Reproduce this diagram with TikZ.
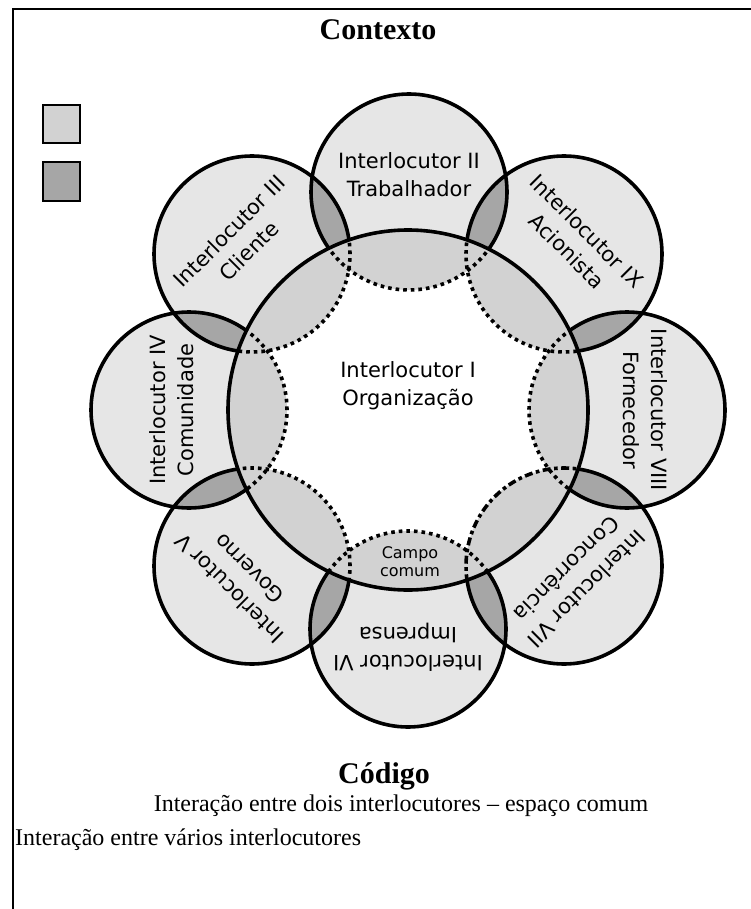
\documentclass[tikz,border=0pt]{standalone}
\usepackage{fontspec}
\setmainfont{Liberation Serif}
\newfontfamily\circfont{DejaVu Sans}
\definecolor{outerfill}{HTML}{E6E6E6}
\definecolor{midfill}{HTML}{D2D2D2}
\definecolor{darkfill}{HTML}{A6A6A6}
\begin{document}
\begin{tikzpicture}[x=1pt,y=-1pt,
  solidline/.style={line width=3.6pt},
  dotline/.style={line width=3.6pt, dash pattern=on 3.6pt off 4pt},
  dashdotline/.style={line width=3.6pt, dash pattern=on 8pt off 3.5pt on 3.6pt off 3.5pt},
  ctext/.style={font=\circfont\fontsize{21}{28}\selectfont, align=center, inner sep=0pt},
  legendbox/.style={draw, line width=2.5pt},
  frameline/.style={line width=2.5pt},
]
\useasboundingbox (0,0) rectangle (751,909);
% frame
\coordinate (fb) at (13,909);
\coordinate (fc) at (13,9);
\coordinate (fr) at (751,9);
\draw[frameline] (fb) -- (fc) -- (fr);
% centers
\coordinate (O) at (408,410);
\coordinate (c2) at (409,192);
\coordinate (c9) at (564,254);
\coordinate (c8) at (627,410);
\coordinate (c7) at (564,566);
\coordinate (c6) at (408,629);
\coordinate (c5) at (252,566);
\coordinate (c4) at (189,410);
\coordinate (c3) at (252,254);
\def\rr{98pt}
\def\RR{180pt}
% light fill of outer circles
\foreach \c in {c2,c9,c8,c7,c6,c5,c4,c3}
  \fill[outerfill] (\c) circle (\rr);
% dark lenses
\foreach \a/\b in {c2/c9,c9/c8,c8/c7,c7/c6,c6/c5,c5/c4,c4/c3,c3/c2}{
  \begin{scope}
    \clip (\a) circle (\rr);
    \fill[darkfill] (\b) circle (\rr);
  \end{scope}
}
% outer outlines
\foreach \c in {c2,c9,c8,c7,c6,c5,c4,c3}
  \draw[solidline] (\c) circle (\rr);
% big circle
\fill[white] (O) circle (\RR);
\begin{scope}
  \clip (O) circle (\RR);
  \foreach \c in {c2,c9,c8,c7,c6,c5,c4,c3}
    \fill[midfill] (\c) circle (\rr);
  \foreach \c in {c2,c9,c8,c6,c5,c4,c3}
    \draw[dotline] (\c) circle (\rr);
  \draw[dashdotline] (c7) circle (\rr);
\end{scope}
\draw[solidline] (O) circle (\RR);
% texts in circles
\node[ctext] (t1) at (408,386) {Interlocutor I\\Organização};
\node[ctext] (t2) at (409,175) {Interlocutor II\\Trabalhador};
\node[ctext, rotate=-45] (t9) at (577,241) {Interlocutor IX\\Acionista};
\node[ctext, rotate=-90] (t8) at (645,410) {Interlocutor VIII\\Fornecedor};
\node[ctext, rotate=-135] (t7) at (577,579) {Interlocutor VII\\Concorrência};
\node[ctext, rotate=180] (t6) at (408,647) {Interlocutor VI\\Imprensa};
\node[ctext, rotate=135] (t5) at (239,579) {Interlocutor V\\Governo};
\node[ctext, rotate=90] (t4) at (172,410) {Interlocutor IV\\Comunidade};
\node[ctext, rotate=45] (t3) at (239,241) {Interlocutor III\\Cliente};
\node[ctext, font=\circfont\fontsize{16}{18}\selectfont] (cc) at (410,562) {Campo\\comum};
% legend
\node[legendbox, fill=midfill, minimum width=37pt, minimum height=38pt, inner sep=0pt] (lg1) at (61.5,124) {};
\node[legendbox, fill=darkfill, minimum width=37pt, minimum height=39pt, inner sep=0pt] (lg2) at (61.5,181.5) {};
% headings
\node[font=\fontsize{30}{32}\selectfont\bfseries, inner sep=0pt] (ctx) at (378,30) {Contexto};
\node[font=\fontsize{30}{32}\selectfont\bfseries, inner sep=0pt] (cod) at (384,776) {Código};
\node[font=\fontsize{24}{26}\selectfont, inner sep=0pt] (l1) at (401,806) {Interação entre dois interlocutores – espaço comum};
\node[font=\fontsize{24}{26}\selectfont, inner sep=0pt, anchor=west] (l2) at (15,840) {Interação entre vários interlocutores};
\end{tikzpicture}
\end{document}
